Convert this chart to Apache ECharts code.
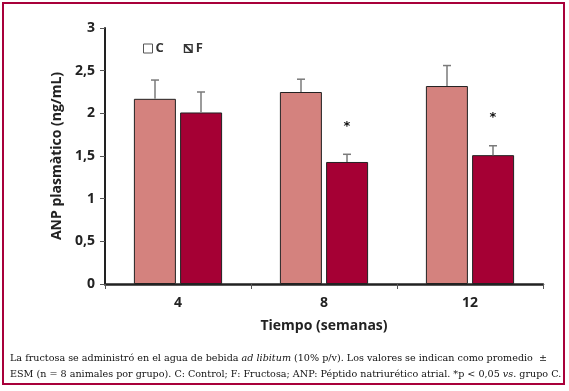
<!DOCTYPE html>
<html>
<head>
<meta charset="utf-8">
<script src="https://cdn.jsdelivr.net/npm/echarts@6/dist/echarts.min.js"></script>
<style>
html, body { margin: 0; padding: 0; background: #fff; }
#chart { width: 569px; height: 391px; }
</style>
</head>
<body>
<div id="chart"></div>
<script>
const weeks = ['4', '8', '12']
const controlMean = [2.17, 2.25, 2.32]
const controlTop = [2.39, 2.40, 2.56]
const fructMean = [2.01, 1.43, 1.51]
const fructTop = [2.25, 1.52, 1.62]
const starMarks = [null, 1.85, 1.95]
const yTicks = [0, 0.5, 1, 1.5, 2, 2.5, 3]

const BAR_W = 42
const OFFSET = 23 // half of bar width + gap

const captionL1 = 'La fructosa se administró en el agua de bebida {i|ad libitum} (10% p/v). Los valores se indican como promedio  ±'
const captionL2 = 'ESM (n = 8 animales por grupo). C: Control; F: Fructosa; ANP: Péptido natriurético atrial. *p < 0,05 {i|vs.} grupo C.'

// error bar drawn above the bar, shifted to the bar's centre
function errBar (tops, means, shift) {
  return {
    type: 'custom',
    silent: true,
    z: 3,
    data: weeks.map((w, i) => [i, means[i], tops[i]]),
    renderItem: function (params, api) {
      const base = api.coord([api.value(0), api.value(1)])
      const top = api.coord([api.value(0), api.value(2)])
      const x = base[0] + shift
      const style = { stroke: '#7a7a7a', lineWidth: 1.5 }
      return {
        type: 'group',
        children: [
          { type: 'line', shape: { x1: x, y1: base[1], x2: x, y2: top[1] }, style: style },
          { type: 'line', shape: { x1: x - 4, y1: top[1], x2: x + 4, y2: top[1] }, style: style }
        ]
      }
    }
  }
}

const capFont = 9.6
const chart = echarts.init(document.getElementById('chart'))
chart.setOption({
  backgroundColor: '#fff',
  animation: false,
  textStyle: { fontFamily: 'Open Sans' },
  grid: { left: 105, right: 26, top: 28, bottom: 107 },
  legend: {
    left: 138,
    top: 37,
    itemWidth: 9,
    itemHeight: 9,
    itemGap: 20,
    textStyle: { fontWeight: 'bold', fontSize: 13, color: '#333', padding: [0, 0, 0, -2] },
    data: [
      { name: 'C', icon: 'rect', itemStyle: { color: '#fff', borderColor: '#555', borderWidth: 1 } },
      { name: 'F', icon: 'path://M0,0H10V10H0Z M1.5,1.5V8.5H8.5V1.5Z M1.5,3L7,8.5H8.5V7L3,1.5H1.5Z', itemStyle: { color: '#333', borderWidth: 0 } }
    ]
  },
  xAxis: {
    type: 'category',
    data: weeks,
    name: 'Tiempo (semanas)',
    nameLocation: 'middle',
    nameGap: 35,
    nameTextStyle: { fontWeight: 'bold', fontSize: 14, color: '#222' },
    axisLine: { lineStyle: { color: '#222', width: 2.5 } },
    axisTick: { show: true, length: 5, lineStyle: { color: '#555', width: 1 } },
    axisLabel: { margin: 12, fontWeight: 'bold', fontSize: 14, color: '#222' }
  },
  yAxis: {
    type: 'value',
    min: 0,
    max: 3,
    interval: 0.5,
    name: 'ANP plasmàtico (ng/mL)',
    nameLocation: 'middle',
    nameGap: 40,
    nameTextStyle: { fontWeight: 'bold', fontSize: 14, color: '#222' },
    splitLine: { show: false },
    axisLine: { show: true, lineStyle: { color: '#222', width: 2 } },
    axisTick: { show: true, length: 5, lineStyle: { color: '#555', width: 1 } },
    axisLabel: {
      margin: 10,
      fontWeight: 'bold',
      fontSize: 14,
      color: '#222',
      customValues: yTicks,
      formatter: v => String(v).replace('.', ',')
    }
  },
  series: [
    {
      name: 'C',
      type: 'bar',
      barWidth: BAR_W,
      barGap: '10%',
      data: controlMean,
      itemStyle: { color: '#d4827e', borderColor: '#222', borderWidth: 1 }
    },
    {
      name: 'F',
      type: 'bar',
      barWidth: BAR_W,
      data: fructMean,
      itemStyle: { color: '#a50034', borderColor: '#222', borderWidth: 1 }
    },
    errBar(controlTop, controlMean, -OFFSET),
    errBar(fructTop, fructMean, OFFSET),
    {
      type: 'custom',
      silent: true,
      z: 4,
      data: starMarks.map((v, i) => [i, v]),
      renderItem: function (params, api) {
        if (api.value(1) == null || isNaN(api.value(1))) return null
        const p = api.coord([api.value(0), api.value(1)])
        return {
          type: 'text',
          x: p[0] + OFFSET,
          y: p[1],
          style: { text: '*', fill: '#111', fontSize: 13, fontWeight: 'bold', align: 'center', verticalAlign: 'middle', fontFamily: 'DejaVu Sans' }
        }
      }
    }
  ],
  graphic: [
    {
      type: 'rect',
      shape: { x: 3, y: 3, width: 561, height: 381 },
      style: { fill: 'none', stroke: '#a8003a', lineWidth: 2 },
      silent: true
    },
    {
      type: 'text',
      left: 10,
      top: 353,
      style: {
        text: captionL1,
        fontFamily: 'DejaVu Serif',
        fontSize: capFont,
        fill: '#111',
        rich: { i: { fontStyle: 'italic', fontFamily: 'DejaVu Serif', fontSize: capFont, fill: '#111' } }
      }
    },
    {
      type: 'text',
      left: 10,
      top: 369,
      style: {
        text: captionL2,
        fontFamily: 'DejaVu Serif',
        fontSize: capFont,
        fill: '#111',
        rich: { i: { fontStyle: 'italic', fontFamily: 'DejaVu Serif', fontSize: capFont, fill: '#111' } }
      }
    }
  ]
})
</script>
</body>
</html>
